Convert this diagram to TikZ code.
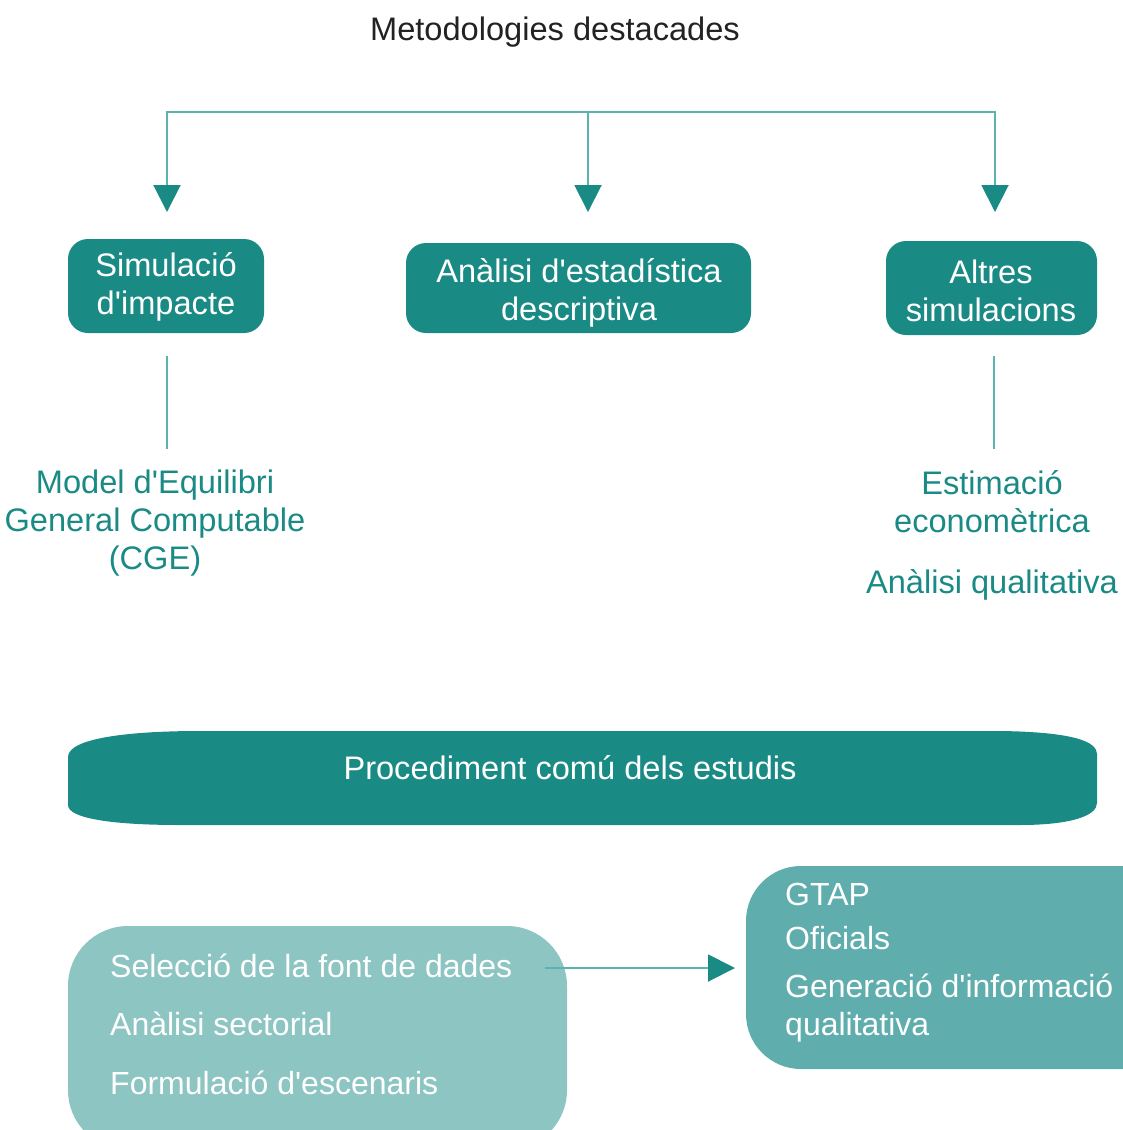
\documentclass[tikz,border=0pt]{standalone}
\usepackage{fontspec}
\setmainfont{Liberation Sans}[Ligatures=TeXOff]
\usetikzlibrary{arrows.meta}
\definecolor{tealdark}{HTML}{1A8A85}
\definecolor{teallight}{HTML}{8DC5C3}
\definecolor{tealmid}{HTML}{5FAEAD}
\definecolor{tealline}{HTML}{5BB3AF}
\definecolor{titlegray}{HTML}{222222}
\tikzset{
  txt/.style={font=\fontsize{32}{38}\selectfont, inner sep=0pt},
  bigtxt/.style={font=\fontsize{32.6}{38}\selectfont, inner sep=0pt},
  darkbox/.style={fill=tealdark, rounded corners=20pt, inner sep=0pt},
  boxtext/.style={bigtxt, text=white, align=center},
  conn/.style={draw=tealline, line width=2pt},
  arr/.style={conn, -{Triangle[width=27pt,length=27pt,color=tealdark,fill=tealdark]}},
  tealtext/.style={bigtxt, text=tealdark, align=center},
  itemtxt/.style={txt, text=white, anchor=base west},
}
\begin{document}
\begin{tikzpicture}[x=1pt,y=-1pt]
\useasboundingbox (0,0) rectangle (1123,1130);
\clip (0,0) rectangle (1123,1130);

% title
\node[bigtxt, text=titlegray, anchor=base] (title) at (555,40) {Metodologies destacades};

% top boxes
\node[darkbox, minimum width=196pt, minimum height=94pt] (b1) at (166,286) {};
\node[darkbox, minimum width=345pt, minimum height=90pt] (b2) at (578.5,288) {};
\node[darkbox, minimum width=211pt, minimum height=94pt] (b3) at (991.5,288) {};
\node[boxtext] (b1t) at (166,287) {Simulació\\d'impacte};
\node[boxtext] (b2t) at (579,293) {Anàlisi d'estadística\\descriptiva};
\node[boxtext] (b3t) at (991,291) {Altres\\simulacions};

% connectors
\coordinate (root) at (588,112);
\coordinate (t1) at (167,212);
\coordinate (t2) at (588,212);
\coordinate (t3) at (995,212);
\draw[arr] (root) -| (t1);
\draw[arr] (root) -- (t2);
\draw[arr] (root) -| (t3);

% lower texts
\node[tealtext] (m1) at (155,523) {Model d'Equilibri\\General Computable\\(CGE)};
\node[tealtext] (m3) at (992,502) {Estimació\\economètrica};
\node[bigtxt, text=tealdark, anchor=base] (m4) at (992,593) {Anàlisi qualitativa};

\coordinate (l1a) at (167,356);
\coordinate (l1b) at (167,449);
\coordinate (l3a) at (994,356);
\coordinate (l3b) at (994,449);
\draw[conn] (l1a) -- (l1b);
\draw[conn] (l3a) -- (l3b);

% banner
\fill[tealdark] (68,757) .. controls (68,738) and (130,731) .. (200,731)
  -- (1000,731) .. controls (1075,732) and (1097,742) .. (1097,754)
  -- (1097,803) .. controls (1097,816) and (1070,825) .. (1020,825)
  -- (180,825) .. controls (110,825) and (68,818) .. (68,805) -- cycle;
\node[bigtxt, text=white] (banner) at (570,768) {Procediment comú dels estudis};

% bottom left box
\fill[teallight, rounded corners=60pt] (68,926) rectangle (567,1150);
\node[itemtxt] (s1) at (110,977) {Selecció de la font de dades};
\node[itemtxt] (s2) at (110,1035) {Anàlisi sectorial};
\node[itemtxt] (s3) at (110,1094) {Formulació d'escenaris};

% bottom right box
\fill[tealmid, rounded corners=55pt] (746,866) rectangle (1180,1069);
\node[itemtxt] (r1) at (785,905) {GTAP};
\node[itemtxt] (r2) at (785,949) {Oficials};
\node[itemtxt] (r3) at (785,997) {Generació d'informació};
\node[itemtxt] (r4) at (785,1035) {qualitativa};

% horizontal arrow
\coordinate (ha) at (545,968);
\coordinate (hb) at (735,968);
\draw[arr] (ha) -- (hb);
\end{tikzpicture}
\end{document}
